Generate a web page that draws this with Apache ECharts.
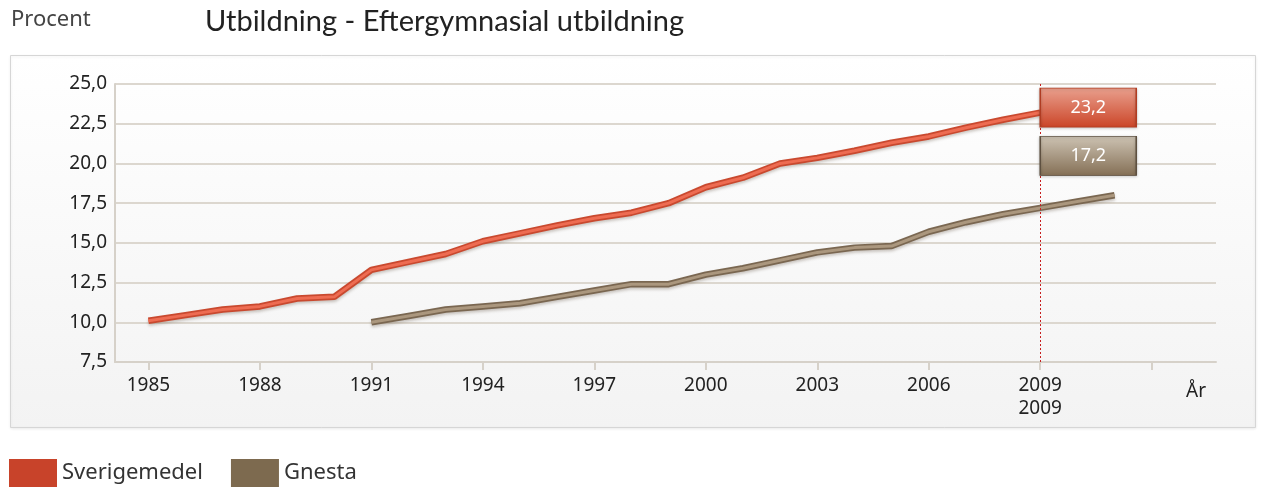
<!DOCTYPE html>
<html>
<head>
<meta charset="utf-8">
<script src="https://cdn.jsdelivr.net/npm/echarts@6/dist/echarts.min.js"></script>
<style>
  html, body { margin: 0; padding: 0; background: #fff; }
  #chart { width: 1261px; height: 489px; }
</style>
</head>
<body>
<div id="chart"></div>
<script>
// år och värden
const yearsSverige = [1985, 1986, 1987, 1988, 1989, 1990, 1991, 1992, 1993, 1994, 1995, 1996, 1997,
  1998, 1999, 2000, 2001, 2002, 2003, 2004, 2005, 2006, 2007, 2008, 2009];
const sverige = [10.1, 10.45, 10.8, 11.0, 11.5, 11.6, 13.3, 13.8, 14.3, 15.1, 15.6, 16.1, 16.55,
  16.9, 17.5, 18.5, 19.1, 20.0, 20.35, 20.8, 21.3, 21.7, 22.25, 22.75, 23.2];
const yearsGnesta = [1991, 1992, 1993, 1994, 1995, 1996, 1997, 1998, 1999, 2000, 2001, 2002, 2003,
  2004, 2005, 2006, 2007, 2008, 2009, 2010, 2011];
const gnesta = [10.0, 10.4, 10.8, 11.0, 11.2, 11.6, 12.0, 12.4, 12.4, 13.0, 13.4, 13.9, 14.4,
  14.7, 14.8, 15.7, 16.3, 16.8, 17.2, 17.6, 18.0];
const tickYears = [1985, 1988, 1991, 1994, 1997, 2000, 2003, 2006, 2009, 2012];
const labelYears = [1985, 1988, 1991, 1994, 1997, 2000, 2003, 2006, 2009];
const markYear = 2009; // markerat år

const font = 'Noto Sans';
const comma = (v) => v.toFixed(1).replace('.', ',');

const pairs = (xs, ys) => xs.map((x, i) => [x, ys[i]]);
const sIdx = yearsSverige.indexOf(markYear);
const gIdx = yearsGnesta.indexOf(markYear);

const boxGradient = (top, bottom) => ({
  type: 'linear', x: 0, y: 0, x2: 0, y2: 1,
  colorStops: [{ offset: 0, color: top }, { offset: 1, color: bottom }]
});

const chart = echarts.init(document.getElementById('chart'));

const option = {
  animation: false,
  textStyle: { fontFamily: font },
  title: [
    { text: 'Procent', left: 6, top: 4, textStyle: { fontSize: 22, fontWeight: 'normal', color: '#444', fontFamily: font } },
    { text: 'Utbildning - Eftergymnasial utbildning', left: 200, top: 2, textStyle: { fontSize: 29, fontWeight: 'normal', color: '#222', fontFamily: 'Lato' } }
  ],
  graphic: [
    {
      type: 'rect', z: -10, silent: true,
      shape: { x: 10.5, y: 55.5, width: 1245, height: 372 },
      style: {
        fill: boxGradient('#ffffff', '#f3f3f3'),
        stroke: '#d6d6d6', lineWidth: 1,
        shadowColor: 'rgba(0,0,0,0.08)', shadowBlur: 3, shadowOffsetY: 1
      }
    }
  ],
  legend: {
    left: 9, top: 459, padding: 0,
    icon: 'rect',
    itemWidth: 48, itemHeight: 28, itemGap: 28,
    textStyle: { fontSize: 22, color: '#333', fontFamily: font },
    data: [
      { name: 'Sverigemedel', itemStyle: { color: '#c8432a' }, lineStyle: { width: 0 } },
      { name: 'Gnesta', itemStyle: { color: '#7d6a4f' }, lineStyle: { width: 0 } }
    ]
  },
  grid: { left: 115, right: 45, top: 84, bottom: 127 },
  xAxis: {
    type: 'value',
    min: 1984.1, max: 2013.73,
    name: 'År', nameLocation: 'end', nameGap: -30,
    nameTextStyle: { fontSize: 19, color: '#222', verticalAlign: 'top', padding: [20, 0, 0, 0] },
    axisLine: { show: true, lineStyle: { color: '#d6d1c9', width: 2 } },
    axisTick: { show: true, customValues: tickYears, length: 8, inside: false, lineStyle: { color: '#d6d1c9', width: 2 } },
    axisLabel: { customValues: labelYears, fontSize: 19, color: '#222', margin: 14, formatter: (v) => String(v) },
    splitLine: { show: false }
  },
  yAxis: {
    type: 'value',
    min: 7.5, max: 25, interval: 2.5,
    axisLine: { show: true, lineStyle: { color: '#d6d1c9', width: 2 } },
    axisTick: { show: false },
    axisLabel: { fontSize: 19, color: '#222', margin: 8, formatter: comma },
    splitLine: { lineStyle: { color: '#dcd7cf', width: 2 } }
  },
  series: [
    {
      name: 'Sverigemedel', type: 'line', showSymbol: false, silent: true,
      data: pairs(yearsSverige, sverige),
      itemStyle: { color: '#c8432a' },
      lineStyle: { color: '#c9492f', width: 6.5, shadowColor: 'rgba(60,40,20,0.25)', shadowBlur: 3, shadowOffsetY: 2 },
      markLine: {
        silent: true, symbol: 'none',
        itemStyle: { color: '#c81e1e' },
        lineStyle: { color: '#c81e1e', type: [2, 2], width: 1 },
        label: { position: 'start', formatter: String(markYear), fontSize: 19, color: '#222', distance: 37 },
        data: [{ xAxis: markYear }]
      }
    },
    {
      name: 'Sverigemedel', type: 'line', showSymbol: false, silent: true,
      data: pairs(yearsSverige, sverige),
      itemStyle: { color: '#c8432a' },
      lineStyle: { color: '#ee6c52', width: 3 },
      z: 3,
      markPoint: {
        silent: true,
        symbol: 'rect', symbolSize: [96, 39], symbolOffset: [48, -5],
        itemStyle: {
          color: boxGradient('#e9a08e', '#cb4528'),
          borderColor: '#b03c22', borderWidth: 1,
          shadowColor: 'rgba(0,0,0,0.25)', shadowBlur: 3, shadowOffsetY: 1
        },
        label: { show: true, color: '#fff', fontSize: 18, formatter: (p) => comma(p.value) },
        data: [{ coord: [yearsSverige[sIdx], sverige[sIdx]], value: sverige[sIdx] }]
      }
    },
    {
      name: 'Gnesta', type: 'line', showSymbol: false, silent: true,
      data: pairs(yearsGnesta, gnesta),
      itemStyle: { color: '#7d6a4f' },
      lineStyle: { color: '#7a6751', width: 6.5, shadowColor: 'rgba(60,40,20,0.25)', shadowBlur: 3, shadowOffsetY: 2 }
    },
    {
      name: 'Gnesta', type: 'line', showSymbol: false, silent: true,
      data: pairs(yearsGnesta, gnesta),
      itemStyle: { color: '#7d6a4f' },
      lineStyle: { color: '#ab977e', width: 3 },
      z: 3,
      markPoint: {
        silent: true,
        symbol: 'rect', symbolSize: [96, 39], symbolOffset: [48, -52],
        itemStyle: {
          color: boxGradient('#cdc3b3', '#846f55'),
          borderColor: '#5e5040', borderWidth: 1,
          shadowColor: 'rgba(0,0,0,0.25)', shadowBlur: 3, shadowOffsetY: 1
        },
        label: { show: true, color: '#fff', fontSize: 18, formatter: (p) => comma(p.value) },
        data: [{ coord: [yearsGnesta[gIdx], gnesta[gIdx]], value: gnesta[gIdx] }]
      }
    }
  ]
};

chart.setOption(option);
</script>
</body>
</html>
